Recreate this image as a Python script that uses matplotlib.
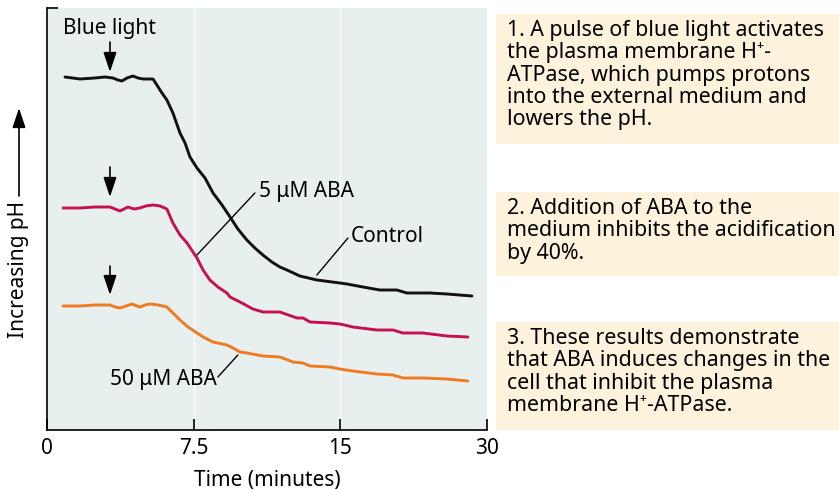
import matplotlib
matplotlib.use("Agg")
import matplotlib.pyplot as plt
from matplotlib.patches import Rectangle, FancyArrowPatch

plt.rcParams['font.family'] = ['Noto Sans', 'DejaVu Sans']

# ---- data (time in axis units, y = relative pH signal) ----
control_t = [0.92, 1.69, 2.45, 2.97, 3.37, 3.63, 3.83, 4.09, 4.40, 4.65, 4.91, 5.42, 5.52, 5.88,
             6.13, 6.44, 6.80, 7.06, 7.31, 7.67, 8.08, 8.49, 8.95, 9.36, 9.76, 10.22, 10.63, 11.04,
             11.50, 11.91, 12.27, 12.93, 13.80, 14.98, 15.34, 16.16, 17.02, 17.89, 18.40, 19.58,
             20.45, 21.73]
control_v = [353, 351, 352, 353, 352, 350, 349, 352, 354, 352, 351, 351, 348, 337,
             330, 317, 297, 287, 273, 262, 252, 237, 225, 213, 201, 190, 182, 175,
             168, 163, 160, 154, 150, 147, 146, 143, 140, 140, 137, 137,
             136, 134]

aba5_t = [0.82, 1.69, 2.45, 3.22, 3.48, 3.73, 3.94, 4.14, 4.45, 4.75, 5.06, 5.42, 5.78, 6.13,
          6.44, 6.80, 7.16, 7.67, 7.98, 8.33, 8.74, 9.20, 9.36, 9.87, 10.53, 11.04, 11.91, 12.78,
          13.09, 13.45, 14.47, 14.98, 15.64, 16.87, 17.69, 18.20, 19.22, 20.45, 21.52]
aba5_v = [222, 222, 223, 223, 221, 219, 221, 223, 221, 222, 224, 225, 224, 221,
          207, 195, 187, 172, 160, 150, 143, 137, 133, 128, 121, 118, 118, 112,
          112, 108, 107, 106, 103, 100, 100, 97, 97, 94, 93]

aba50_t = [0.82, 1.69, 2.45, 3.22, 3.48, 3.73, 4.04, 4.35, 4.60, 4.75, 5.01, 5.27, 5.68, 6.13,
           6.44, 6.80, 7.21, 7.67, 8.08, 8.49, 9.20, 9.51, 9.87, 10.22, 11.04, 11.91, 12.58,
           13.09, 13.45, 14.47, 14.98, 15.64, 16.87, 17.69, 18.20, 19.22, 20.45, 21.52]
aba50_v = [124, 124, 125, 125, 123, 122, 124, 126, 124, 123, 125, 126, 125, 123,
           117, 110, 103, 97, 92, 88, 85, 82, 78, 77, 74, 73, 68,
           67, 64, 63, 61, 59, 56, 55, 52, 52, 51, 49]

tick_pos = [0, 7.5, 15, 22.5]
tick_labels = ["0", "7.5", "15", "30"]

notes = [
    "1. A pulse of blue light activates\nthe plasma membrane H\u207a-\nATPase, which pumps protons\ninto the external medium and\nlowers the pH.",
    "2. Addition of ABA to the\nmedium inhibits the acidification\nby 40%.",
    "3. These results demonstrate\nthat ABA induces changes in the\ncell that inhibit the plasma\nmembrane H\u207a-ATPase.",
]

FS = 15
NFS = 15.4
W, H = 839, 490
fig = plt.figure(figsize=(W / 100, H / 100), dpi=100)
ax = fig.add_axes([47 / W, 1 - 430 / H, 440 / W, 422 / H])
ax.set_facecolor('#e7f0ee')

ax.plot(control_t, control_v, color='#111111', lw=2.1, solid_capstyle='round')
ax.plot(aba5_t, aba5_v, color='#c4124c', lw=2.1, solid_capstyle='round')
ax.plot(aba50_t, aba50_v, color='#f07a22', lw=2.1, solid_capstyle='round')

ax.set_xlim(0, 22.5)
ax.set_ylim(0, 422)
ax.set_xticks(tick_pos)
ax.set_xticklabels(tick_labels, fontsize=FS)
ax.set_yticks([422])
ax.set_yticklabels([])
ax.tick_params(axis='x', direction='in', length=8, width=1.2, pad=6)
ax.tick_params(axis='y', direction='in', length=8, width=1.2)
for s in ['top', 'right']:
    ax.spines[s].set_visible(False)
for s in ['left', 'bottom']:
    ax.spines[s].set_linewidth(1.2)
for xv in [7.5, 15]:
    ax.axvline(xv, color='white', lw=1.0, zorder=0.5)
ax.set_xlabel("Time (minutes)", fontsize=FS, labelpad=8)

arrow_style = '-|>,head_length=0.6,head_width=0.2'

# arrows for blue light pulse
for tip, tail in [(358, 388), (233, 263), (135, 164)]:
    ax.annotate('', xy=(3.22, tip), xytext=(3.22, tail),
                arrowprops=dict(arrowstyle=arrow_style, color='black', lw=1.2, mutation_scale=20,
                                shrinkA=0, shrinkB=0))
ax.text(3.22, 401, "Blue light", fontsize=FS, ha='center', va='center')

# labels with leader lines
lp = dict(arrowstyle='-', color='black', lw=1.0, shrinkA=0, shrinkB=0)
ax.annotate('', xy=(7.67, 175), xytext=(10.63, 237), arrowprops=lp)
ax.text(10.85, 238, "5 \u03bcM ABA", fontsize=FS, ha='left', va='center')
ax.annotate('', xy=(13.80, 155), xytext=(15.39, 192), arrowprops=lp)
ax.text(15.55, 193, "Control", fontsize=FS, ha='left', va='center')
ax.annotate('', xy=(9.76, 75), xytext=(8.74, 53), arrowprops=lp)
ax.text(8.69, 51, "50 \u03bcM ABA", fontsize=FS, ha='right', va='center')

# y label with arrow
fig.text(19 / W, 1 - 269 / H, "Increasing pH", rotation=90, fontsize=FS, ha='center', va='center')
fig.add_artist(FancyArrowPatch(
    (19 / W, 1 - 196 / H), (19 / W, 1 - 108 / H), transform=fig.transFigure,
    arrowstyle=arrow_style, mutation_scale=20, color='black', lw=1.2, shrinkA=0, shrinkB=0))

# note boxes
boxes = [(14, 144), (192, 276), (322, 430)]
for (top, bot), txt in zip(boxes, notes):
    fig.add_artist(Rectangle((496 / W, 1 - bot / H), (W - 496) / W, (bot - top) / H,
                             transform=fig.transFigure, facecolor='#fdf3dc', edgecolor='none'))
    fig.text(507 / W, 1 - (top + 6) / H, txt, fontsize=NFS, ha='left', va='top', linespacing=1.08)

fig.savefig('out.png', dpi=100)
